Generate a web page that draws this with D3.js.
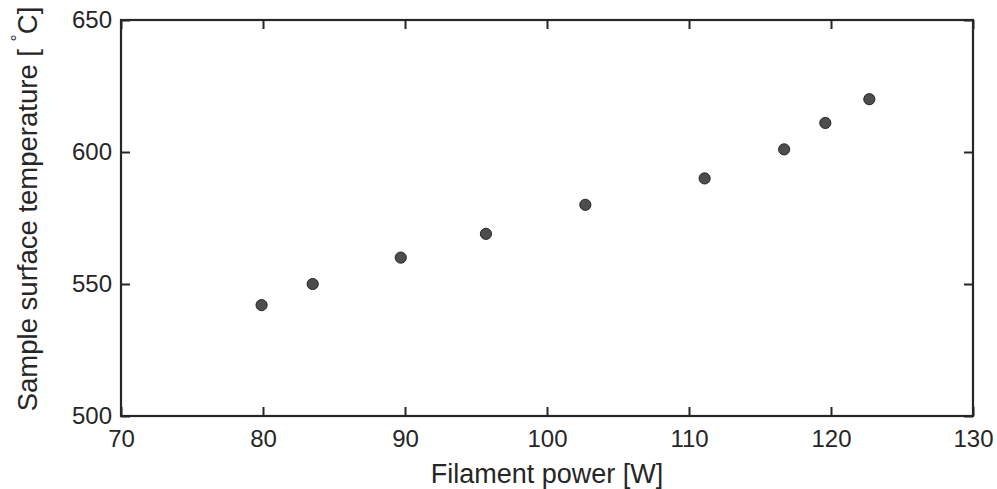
<!DOCTYPE html>
<html>
<head>
	<meta charset="utf-8">
	<title>filament power vs temperature</title>
	<script src="https://d3js.org/d3.v7.min.js"></script>
	<style>
		body { margin: 0; background: #fff; }
		svg text { font-family: 'Liberation Sans', Arial, sans-serif; fill: #262626; }
	</style>
</head>
<body>
	<script>
		// data
		var power = [79.9, 83.5, 89.7, 95.7, 102.7, 111.1, 116.7, 119.6, 122.7];
		var temperature = [542, 550, 560, 569, 580, 590, 601, 611, 620];
		var xTicks = [70, 80, 90, 100, 110, 120, 130];
		var yTicks = [500, 550, 600, 650];

		var w = 997, h = 489;
		var mLeft = 121, mRight = 973, mTop = 20, mBottom = 416;

		var svg = d3.select('body').append('svg')
			.attr('width', w)
			.attr('height', h);

		var x = d3.scaleLinear().domain([70, 130]).range([mLeft, mRight]);
		var y = d3.scaleLinear().domain([500, 650]).range([mBottom, mTop]);

		var axisColor = '#262626';

		function styleAxis(g) {
			g.attr('font-size', 24).attr('font-family', null);
			g.select('.domain').remove();
			g.selectAll('.tick line').attr('stroke', axisColor).attr('stroke-width', 2);
			g.selectAll('.tick text').attr('fill', axisColor);
		}

		// bottom / top
		svg.append('g')
			.attr('transform', 'translate(0,' + mBottom + ')')
			.call(d3.axisBottom(x).tickValues(xTicks).tickSizeInner(-9).tickSizeOuter(0).tickPadding(14))
			.call(styleAxis);
		svg.append('g')
			.attr('transform', 'translate(0,' + mTop + ')')
			.call(d3.axisTop(x).tickValues(xTicks).tickSizeInner(-9).tickSizeOuter(0).tickFormat(''))
			.call(styleAxis);
		// left / right
		svg.append('g')
			.attr('transform', 'translate(' + mLeft + ',0)')
			.call(d3.axisLeft(y).tickValues(yTicks).tickSizeInner(-9).tickSizeOuter(0).tickPadding(9))
			.call(styleAxis);
		svg.append('g')
			.attr('transform', 'translate(' + mRight + ',0)')
			.call(d3.axisRight(y).tickValues(yTicks).tickSizeInner(-9).tickSizeOuter(0).tickFormat(''))
			.call(styleAxis);

		// box
		svg.append('rect')
			.attr('x', mLeft).attr('y', mTop)
			.attr('width', mRight - mLeft).attr('height', mBottom - mTop)
			.attr('fill', 'none')
			.attr('stroke', axisColor)
			.attr('stroke-width', 2.2);

		// points
		svg.append('g').selectAll('circle')
			.data(power)
			.enter()
			.append('circle')
			.attr('cx', function (d) { return x(d); })
			.attr('cy', function (d, i) { return y(temperature[i]); })
			.attr('r', 5.6)
			.attr('fill', '#4d4d4d')
			.attr('stroke', '#1a1a1a')
			.attr('stroke-width', 0.9);

		// axis titles
		svg.append('text')
			.attr('x', (mLeft + mRight) / 2)
			.attr('y', 483)
			.attr('text-anchor', 'middle')
			.attr('font-size', 27)
			.text('Filament power [W]');

		var yl = svg.append('text')
			.attr('transform', 'translate(37,209) rotate(-90)')
			.attr('text-anchor', 'middle')
			.attr('font-size', 27.5);
		yl.append('tspan').text('Sample surface temperature [ ');
		yl.append('tspan').attr('font-size', 18).attr('dy', -13).text('°');
		yl.append('tspan').attr('dy', 13).text('C]');
	</script>
</body>
</html>
